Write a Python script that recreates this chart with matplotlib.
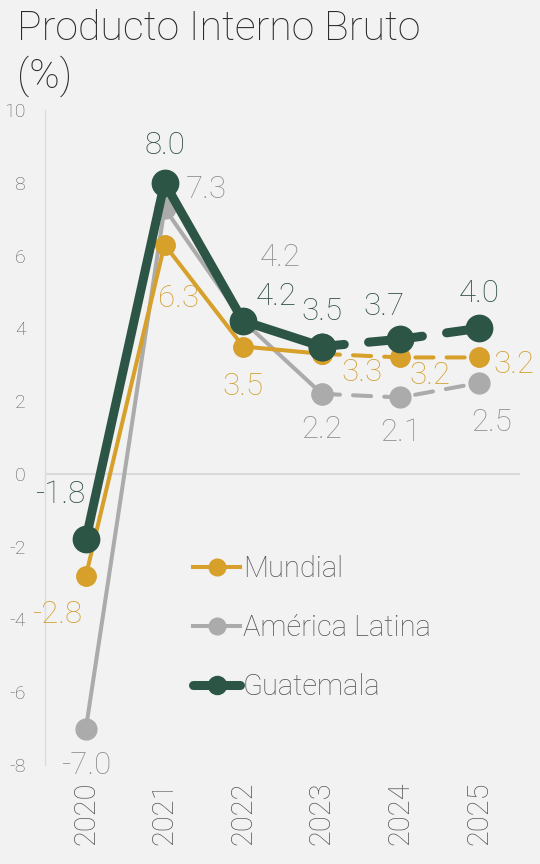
import numpy as np
import matplotlib.pyplot as plt
from matplotlib.lines import Line2D

plt.rcParams['font.family'] = ['Roboto', 'DejaVu Sans']
plt.rcParams['font.weight'] = 'light'
plt.rcParams['axes.unicode_minus'] = False

# data
years = ['2020', '2021', '2022', '2023', '2024', '2025']
mundial = [-2.8, 6.3, 3.5, 3.3, 3.2, 3.2]
america_latina = [-7.0, 7.3, 4.2, 2.2, 2.1, 2.5]
guatemala = [-1.8, 8.0, 4.2, 3.5, 3.7, 4.0]
series_names = ['Mundial', 'América Latina', 'Guatemala']

# styles
bg = '#F2F2F2'
gold = '#D6A02A'
gray = '#ABABAB'
green = '#2D5546'
label_colors = {'Mundial': '#D4A030', 'América Latina': '#8E8E8E', 'Guatemala': '#2F4F45'}

# label offsets in pixels (dx, dy)
offsets = {
    'Mundial': [(-29, -39), (14, -54), (0, -40), (40, -19), (29, -18), (35, -7)],
    'América Latina': [(0, -37), (42, 19), (37, 64), (0, -36), (0, -35), (13, -40)],
    'Guatemala': [(-26, 45), (0, 37), (33, 25), (0, 35), (-17, 33), (0, 35)],
}

fig = plt.figure(figsize=(5.4, 8.64), dpi=100, facecolor=bg)
ax = fig.add_axes([45 / 540, 1 - 765 / 864, 475 / 540, 655 / 864])
ax.set_facecolor(bg)

x = np.arange(len(years))
styles = [
    ('América Latina', america_latina, gray, 2.9, 15, (0, (4.5, 3.25))),
    ('Mundial', mundial, gold, 2.9, 14, (0, (4.5, 3.25))),
    ('Guatemala', guatemala, green, 6.5, 19, (3.5, (6, 2.7))),
]
for z, (name, vals, col, lw, ms, dash) in enumerate(styles):
    vals = np.array(vals)
    # solid up to 2023, dashed projections after
    ax.plot(x[:4], vals[:4], color=col, lw=lw, marker='o', ms=ms,
            solid_capstyle='round', zorder=3 + z)
    ax.plot(x[3:], vals[3:], color=col, lw=lw, linestyle=dash,
            dash_capstyle='round', zorder=3 + z)
    ax.plot(x[3:], vals[3:], color=col, lw=0, marker='o', ms=ms, zorder=3 + z)
    for i, v in enumerate(vals):
        dx, dy = offsets[name][i]
        ax.annotate(f'{v:.1f}', (x[i], v),
                    xytext=(dx * 0.72, dy * 0.72), textcoords='offset points',
                    ha='center', va='center', fontsize=22.5,
                    color=label_colors[name], zorder=10)

ax.axhline(0, color='#DADADA', lw=1.5, zorder=1)
ax.set_xlim(-0.52, 5.52)
ax.set_ylim(-8, 10)
ax.set_yticks(np.arange(-8, 11, 2))
ax.set_xticks(x)
ax.set_xticklabels(years, rotation=90, fontsize=21, color='#5A5A5A')
ax.tick_params(axis='y', length=0, labelsize=14, labelcolor='#606060', pad=14)
ax.tick_params(axis='x', length=0, pad=12)
for s in ['top', 'right', 'bottom']:
    ax.spines[s].set_visible(False)
ax.spines['left'].set_color('#DCDCDC')
ax.spines['left'].set_linewidth(1)

handles = [
    Line2D([], [], color=gold, lw=2.9, marker='o', ms=12),
    Line2D([], [], color=gray, lw=2.9, marker='o', ms=12),
    Line2D([], [], color=green, lw=6.5, marker='o', ms=13, solid_capstyle='round'),
]
ax.legend(handles, series_names, loc='center left', bbox_to_anchor=(0.312, 0.209),
          frameon=False, fontsize=21, handlelength=1.6, handletextpad=0.1,
          labelspacing=1.05, borderpad=0, borderaxespad=0, labelcolor='#555555')

fig.text(17 / 540, 1 - 10 / 864, 'Producto Interno Bruto\n(%)', fontsize=29.5,
         color='#2B2B2B', ha='left', va='top', linespacing=1.2)

fig.savefig('out.png', dpi=100, facecolor=bg)
